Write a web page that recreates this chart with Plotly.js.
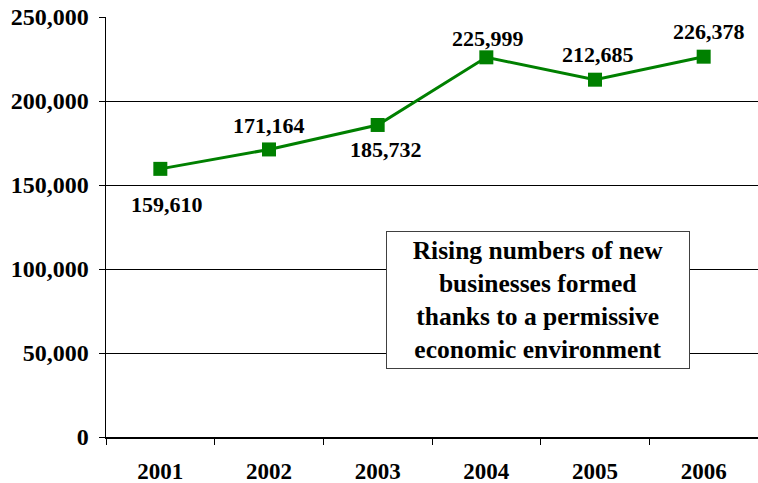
<!DOCTYPE html>
<html>
<head>
<meta charset="utf-8">
<script src="https://cdn.plot.ly/plotly-3.0.1.min.js"></script>
<style>html,body{margin:0;padding:0;background:#fff;}#chart{width:758px;height:483px;}</style>
</head>
<body>
<div id="chart"></div>
<script>
const years = ["2001", "2002", "2003", "2004", "2005", "2006"];
const businesses = [159610, 171164, 185732, 225999, 212685, 226378];
const noteText = "Rising numbers of new<br>businesses formed<br>thanks to a permissive<br>economic environment";

// label placement (styling only)
const labelShiftY = [-36, 24, -25, 19, 25, 25];
const labelShiftX = [7, 0, 8, 2, 3, 5];

const FONT = "Liberation Serif, Times New Roman, Times, serif";
const green = "#008000";

const trace = {
  x: years,
  y: businesses,
  type: "scatter",
  mode: "lines+markers",
  line: {color: green, width: 3},
  marker: {symbol: "square", size: 14, color: green},
  hoverinfo: "x+y"
};

const labels = years.map((yr, i) => ({
  x: i, y: businesses[i], xref: "x", yref: "y",
  text: businesses[i].toLocaleString("en-US"),
  showarrow: false,
  xshift: labelShiftX[i], yshift: labelShiftY[i],
  font: {family: FONT, size: 22, weight: "bold", color: "#000"}
}));

labels.push({
  xref: "paper", yref: "paper", x: 0.663, y: 0.326,
  xanchor: "center", yanchor: "middle",
  text: noteText,
  showarrow: false,
  align: "center",
  width: 300, height: 134,
  bgcolor: "#fff",
  bordercolor: "#404040",
  borderwidth: 1,
  borderpad: 1,
  font: {family: FONT, size: 25.5, weight: "bold", color: "#000"}
});

const layout = {
  width: 758, height: 483,
  margin: {l: 106, r: 0, t: 17, b: 46},
  paper_bgcolor: "#fff", plot_bgcolor: "#fff",
  showlegend: false,
  font: {family: FONT, color: "#000"},
  xaxis: {
    type: "category",
    range: [-0.5, years.length - 0.5],
    showgrid: false,
    showline: true, linecolor: "#000", linewidth: 1.5,
    ticks: "outside", tickson: "boundaries", ticklen: 6, tickcolor: "#000",
    ticklabelstandoff: 13,
    tickfont: {family: FONT, size: 23, weight: "bold", color: "#000"},
    zeroline: false,
    fixedrange: true
  },
  yaxis: {
    range: [0, 250000],
    dtick: 50000,
    tickformat: ",d",
    showgrid: true, gridcolor: "#000", gridwidth: 1,
    showline: true, linecolor: "#000", linewidth: 1.5,
    ticks: "outside", ticklen: 6, tickcolor: "#000",
    ticklabelstandoff: 5,
    tickfont: {family: FONT, size: 24, weight: "bold", color: "#000"},
    zeroline: false,
    fixedrange: true
  },
  annotations: labels
};

Plotly.newPlot("chart", [trace], layout, {displayModeBar: false, staticPlot: true});
</script>
</body>
</html>
